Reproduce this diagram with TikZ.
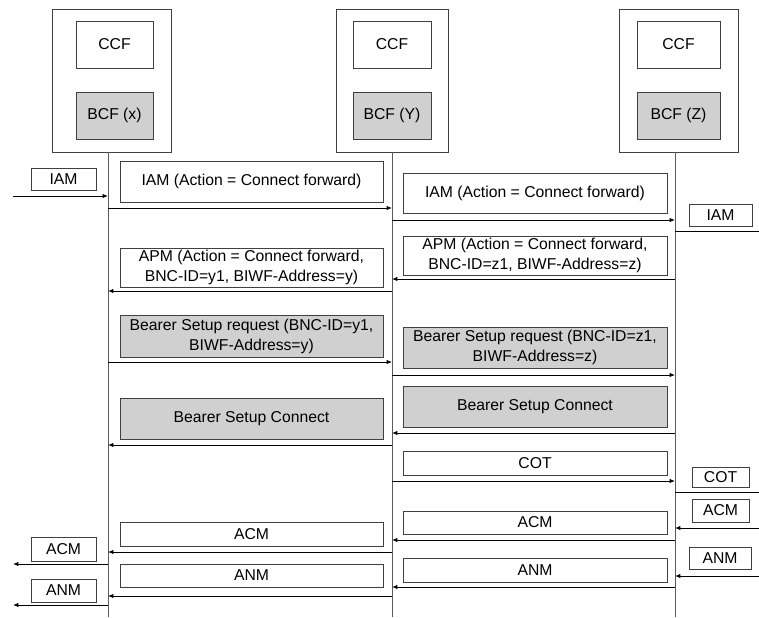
\documentclass[tikz,border=0pt]{standalone}
\usepackage{fontspec}
\setmainfont{Liberation Sans}
\usetikzlibrary{arrows.meta}
\definecolor{bord}{HTML}{404040}
\definecolor{life}{HTML}{5A5A5A}
\definecolor{shade}{HTML}{D0D0D0}
\newcommand\fs{\fontsize{11.8pt}{15pt}\selectfont}
\newcommand\mkbox[7]{%
  \node[box,#6,minimum width={(#4-#2)*0.75pt},minimum height={(#5-#3)*0.75pt}]
    (#1) at ({(#2+#4)/2},{(#3+#5)/2}) {#7};}
\tikzset{
  box/.style={draw=bord, line width=0.6pt, inner sep=0pt, align=center, font=\fs, fill=white},
  grey/.style={fill=shade},
  lifeline/.style={draw=life, line width=0.6pt},
  arr/.style={draw=black, line width=0.6pt, -{Latex[length=4pt,width=3.2pt]}},
  plain/.style={draw=black, line width=0.6pt}
}
\begin{document}
\begin{tikzpicture}[x=0.75pt,y=-0.75pt]
\useasboundingbox (0,0) rectangle (759,617);
% entities
\mkbox{ox}{52}{9}{171}{152}{}{}
\mkbox{oy}{336}{9}{448}{152}{}{}
\mkbox{oz}{619}{9}{738}{152}{}{}
\mkbox{ccfx}{76}{21}{153}{68}{}{CCF}
\mkbox{ccfy}{353}{21}{431}{68}{}{CCF}
\mkbox{ccfz}{637}{21}{720}{68}{}{CCF}
\mkbox{bcfx}{76}{92}{153}{139}{grey}{BCF (x)}
\mkbox{bcfy}{353}{92}{431}{139}{grey}{BCF (Y)}
\mkbox{bcfz}{637}{92}{720}{139}{grey}{BCF (Z)}
% lifelines
\coordinate (lx) at (108,152);
\coordinate (ly) at (392,152);
\coordinate (lz) at (675,152);
\coordinate (lxe) at (108,617);
\coordinate (lye) at (392,617);
\coordinate (lze) at (675,617);
\draw[lifeline] (lx) -- (lxe);
\draw[lifeline] (ly) -- (lye);
\draw[lifeline] (lz) -- (lze);
\coordinate (L) at (13,0);
\coordinate (R) at (759,0);
% message boxes X-Y
\mkbox{iam1}{120}{161}{383}{202}{}{IAM (Action = Connect forward)}
\mkbox{apm1}{120}{248}{383}{287}{}{APM (Action = Connect forward,\\BNC-ID=y1, BIWF-Address=y)}
\mkbox{bsr1}{120}{315}{383}{357}{grey}{Bearer Setup request (BNC-ID=y1,\\BIWF-Address=y)}
\mkbox{bsc1}{120}{398}{383}{439}{grey}{Bearer Setup Connect}
\mkbox{acm1}{120}{522}{383}{546}{}{ACM}
\mkbox{anm1}{120}{564}{383}{587}{}{ANM}
% message boxes Y-Z
\mkbox{iam2}{403}{173}{667}{213}{}{IAM (Action = Connect forward)}
\mkbox{apm2}{403}{236}{667}{275}{}{APM (Action = Connect forward,\\BNC-ID=z1, BIWF-Address=z)}
\mkbox{bsr2}{403}{327}{667}{368}{grey}{Bearer Setup request (BNC-ID=z1,\\BIWF-Address=z)}
\mkbox{bsc2}{403}{386}{667}{427}{grey}{Bearer Setup Connect}
\mkbox{cot2}{403}{451}{667}{475}{}{COT}
\mkbox{acm2}{403}{511}{667}{534}{}{ACM}
\mkbox{anm2}{403}{558}{667}{582}{}{ANM}
% outside boxes
\mkbox{iamL}{31}{168}{96}{190}{}{IAM}
\mkbox{acmL}{31}{537}{96}{561}{}{ACM}
\mkbox{anmL}{31}{579}{96}{602}{}{ANM}
\mkbox{iamR}{689}{204}{752}{226}{}{IAM}
\mkbox{cotR}{692}{467}{749}{487}{}{COT}
\mkbox{acmR}{692}{499}{749}{522}{}{ACM}
\mkbox{anmR}{689}{547}{751}{569}{}{ANM}
% arrows
\draw[arr] (L |- 0,196) -- (lx |- 0,196);
\draw[arr] (lx |- 0,208) -- (ly |- 0,208);
\draw[arr] (ly |- 0,220) -- (lz |- 0,220);
\draw[plain] (lz |- 0,231) -- (R |- 0,231);
\draw[arr] (lz |- 0,279) -- (ly |- 0,279);
\draw[arr] (ly |- 0,291) -- (lx |- 0,291);
\draw[arr] (lx |- 0,362) -- (ly |- 0,362);
\draw[arr] (ly |- 0,375) -- (lz |- 0,375);
\draw[arr] (lz |- 0,433) -- (ly |- 0,433);
\draw[arr] (ly |- 0,445) -- (lx |- 0,445);
\draw[arr] (ly |- 0,481) -- (lz |- 0,481);
\draw[plain] (lz |- 0,492) -- (R |- 0,492);
\draw[arr] (R |- 0,528) -- (lz |- 0,528);
\draw[arr] (lz |- 0,540) -- (ly |- 0,540);
\draw[arr] (ly |- 0,552) -- (lx |- 0,552);
\draw[arr] (lx |- 0,564) -- (L |- 0,564);
\draw[arr] (R |- 0,576) -- (lz |- 0,576);
\draw[arr] (lz |- 0,587) -- (ly |- 0,587);
\draw[arr] (ly |- 0,596) -- (lx |- 0,596);
\draw[arr] (lx |- 0,605) -- (L |- 0,605);
\end{tikzpicture}
\end{document}
